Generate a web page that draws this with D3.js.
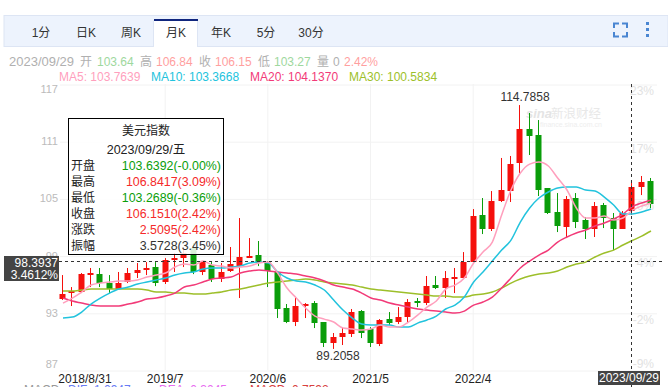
<!DOCTYPE html>
<html>
<head>
<meta charset="utf-8">
<script src="https://cdn.jsdelivr.net/npm/d3@7"></script>
<style>
  html, body { margin: 0; padding: 0; background: #fff; overflow: hidden; }
  text { font-family: "Liberation Sans", "Noto Sans CJK SC", sans-serif; }
</style>
</head>
<body>
<svg id="chart" width="668" height="387"></svg>
<script>
// -----------------------------------------------------------------------
// Data
// -----------------------------------------------------------------------

const tabs = ["1分", "日K", "周K", "月K", "年K", "5分", "30分"];
const activeTab = "月K";

const opens = [94.44,95.18,95.18,96.96,97.06,96.12,95.49,96.23,97.17,97.49,97.8,96.23,98.53,98.74,99.79,97.28,98.01,96.54,97.38,97.9,98.85,99.06,98.32,97.28,93.5,92.03,93.71,94.02,92.03,89.83,90.46,90.77,93.18,91.3,89.72,92.34,92.03,92.55,94.23,94.02,95.91,95.6,96.65,96.65,98.32,103.26,101.79,104.73,105.77,108.71,112.28,111.65,106.09,103.57,102,105.04,102.73,101.79,104.31,102.94,101.79,103.64,106.2,106.84];
const highs = [96.96,95.7,97.17,97.7,97.7,96.96,97.28,97.7,98.22,98.32,98.32,98.74,99.27,99.9,100.3,98.43,98.32,98.22,99.9,102.94,100.84,100.53,98.43,97.38,93.92,94.65,94.02,94.23,92.03,90.88,91.5,93.4,93.29,91.5,92.34,93.08,93.6,94.44,94.55,96.86,96.86,97.38,97.7,99.37,103.88,105.04,105.77,109.24,109.45,114.79,113.96,113.22,106.09,105.56,105.25,105.56,103.05,104.62,104.52,103.47,103.68,106.84,107.35,107.14];
const lows = [94.34,93.71,95.07,95.7,95.7,95.07,95.49,96.12,96.65,96.96,95.8,96.02,97.28,97.8,97.06,96.96,96.23,96.23,97.28,94.55,98.85,97.9,95.7,92.45,91.92,91.61,92.45,91.4,89.41,89.21,89.62,90.46,90.35,89.41,89.51,91.71,91.82,91.92,93.6,93.81,95.49,94.55,95.07,96.54,98.32,101.26,101.58,104.62,104.62,107.66,109.55,105.25,103.36,101.47,100.84,101.89,100.74,100.95,101.89,99.58,101.79,103.27,105.35,103.99];
const closes = [94.97,95.28,97.06,97.17,96.12,95.49,96.12,97.17,97.49,97.7,96.12,98.53,98.74,99.27,97.28,98.32,96.54,97.28,98.11,98.85,98.95,98.22,97.38,93.4,92.03,93.71,93.92,91.92,89.83,90.46,90.88,93.08,90.88,89.83,92.24,91.92,92.55,94.13,94.02,95.8,95.6,96.65,96.75,98.32,103.15,101.79,104.73,105.88,108.6,112.28,111.55,105.88,103.47,102.1,104.93,102.52,101.79,104.2,102.94,101.79,103.47,106.15,106.72,104.41];

const ma5 = [94.02,94.55,95.18,95.91,96.12,96.23,96.33,96.33,96.44,96.75,96.96,97.17,97.8,98.11,98.01,98.43,98.01,97.9,97.7,97.8,97.9,98.22,98.32,97.17,95.6,94.55,93.5,92.66,92.34,92.03,91.4,91.3,91.19,91.3,91.71,91.5,91.5,92.03,92.76,93.6,94.23,95.49,95.91,96.65,98.22,99.37,100.42,103.26,105.88,107.66,108.6,108.82,108.4,107.14,105.88,103.99,102.94,102.94,103.15,102.73,102.94,103.76,104.2,104.52];
const ma10 = [92.45,92.55,93.08,93.92,94.55,95.07,95.49,95.7,96.02,96.23,96.44,96.65,96.96,97.17,97.28,97.59,97.7,97.7,97.8,97.9,98.22,98.32,98.22,97.28,96.65,96.33,96.23,95.91,95.39,94.34,93.29,92.45,91.82,91.71,91.71,91.71,91.5,91.5,91.92,92.24,92.66,93.4,93.81,94.65,96.23,97.28,98.43,99.58,100.63,102.52,103.99,105.04,105.67,106.09,106.2,106.2,105.88,105.77,105.14,104.31,103.37,103.37,103.57,103.88];
const ma20 = [94.55,94.23,94.02,93.81,93.71,93.71,93.71,93.92,94.13,94.44,94.55,94.76,95.07,95.7,95.91,96.23,96.54,96.65,96.75,97.17,97.38,97.49,97.38,97.28,97.17,97.06,96.86,96.65,96.33,95.91,95.7,95.49,95.07,94.55,94.34,94.02,93.81,93.6,93.4,93.29,93.18,93.08,92.97,93.18,93.81,94.13,94.65,95.6,96.65,97.7,98.43,99.06,99.58,100.42,100.95,101.37,101.68,102.1,102.42,102.84,103.36,104.14,104.52,104.83];
const ma30 = [95.28,95.28,95.39,95.49,95.49,95.49,95.49,95.49,95.49,95.39,95.18,95.18,95.07,95.07,94.97,94.97,95.07,95.18,95.39,95.49,95.7,95.91,96.12,96.23,96.33,96.44,96.54,96.44,96.23,96.12,96.02,95.91,95.7,95.49,95.39,95.28,95.18,95.07,94.97,94.86,94.76,94.76,94.65,94.65,94.86,94.97,95.18,95.6,96.12,96.54,96.86,97.06,97.17,97.38,97.8,98.11,98.32,98.85,99.27,99.58,100.11,100.58,101.05,101.58];

const yTicks = [117, 111, 105, 99, 93, 87];
const pctLabels = ["23%", "17%", "10%", "4%", "-2%", "-9%"];
// candle index -> axis label
const xTickIndex = [11, 22, 33, 44];
const xTickLabels = ["2019/7", "2020/6", "2021/5", "2022/4"];

const infoTexts = ["2023/09/29", "开", "103.64", "高", "106.84", "收", "106.15", "低", "103.27", "量", "0", "2.42%"];
const infoColors = ["#b0b0b0", "#b0b0b0", "#9ed89e", "#b0b0b0", "#ff9f9f", "#b0b0b0", "#ff9f9f", "#b0b0b0", "#9ed89e", "#b0b0b0", "#b0b0b0", "#ff9f9f"];
const maLabels = ["MA5: 103.7639", "MA10: 103.3668", "MA20: 104.1370", "MA30: 100.5834"];
const maColors = ["#ff9fbd", "#22c3dd", "#f23a78", "#9dbf2a"];

const tipNames = ["开盘", "最高", "最低", "收盘", "涨跌", "振幅"];
const tipValues = ["103.6392(-0.00%)", "106.8417(3.09%)", "103.2689(-0.36%)", "106.1510(2.42%)", "2.5095(2.42%)", "3.5728(3.45%)"];
const tipColors = ["#0a9e0a", "#f52a2a", "#0a9e0a", "#f52a2a", "#f52a2a", "#333"];

const crossIndex = 61;
const crossValue = 98.3937;

const UP = "#f5100c";
const DOWN = "#0a9d0a";

// -----------------------------------------------------------------------
// Scales
// -----------------------------------------------------------------------

const svg = d3.select("#chart");
const x = d3.scaleLinear().domain([0, 63]).range([62, 650]);
const y = d3.scaleLinear().domain([87, 117]).range([370, 84]);
const px = i => Math.round(x(i)) + 0.5;

// -----------------------------------------------------------------------
// Toolbar
// -----------------------------------------------------------------------

svg.append("rect").attr("x", 4).attr("y", 15.5).attr("width", 664).attr("height", 31)
  .attr("fill", "#edf3fd").attr("stroke", "#dde5f4");

const tabX = d3.scalePoint().domain(tabs).range([41, 311]);
const activeX = tabX(activeTab);
svg.append("rect").attr("x", activeX - 22).attr("y", 20).attr("width", 44).attr("height", 27)
  .attr("fill", "#fff");
svg.append("path").attr("d", `M${activeX - 22.5},47V20.5M${activeX + 21.5},20.5V47`)
  .attr("stroke", "#dde5f4").attr("fill", "none");
svg.append("rect").attr("x", activeX - 22).attr("y", 19).attr("width", 44).attr("height", 2)
  .attr("fill", "#10267e");

svg.selectAll(".tab").data(tabs).join("text")
  .attr("class", "tab")
  .attr("x", d => tabX(d))
  .attr("y", 37)
  .attr("text-anchor", "middle")
  .attr("font-size", 12)
  .attr("fill", "#333")
  .text(d => d);

// fullscreen + menu icons
svg.append("path")
  .attr("d", "M614,28V23.5H619M622,23.5H627V28M627,32V36.5H622M619,36.5H614V32")
  .attr("fill", "none").attr("stroke", "#4a86d2").attr("stroke-width", 2);
svg.selectAll(".dot").data([22, 28, 34]).join("rect")
  .attr("class", "dot")
  .attr("x", 646).attr("y", d => d).attr("width", 3).attr("height", 3)
  .attr("fill", "#4a86d2");

// -----------------------------------------------------------------------
// Header lines
// -----------------------------------------------------------------------

const infoX = [9, 80, 97, 140, 156, 199, 215, 258, 274, 317, 333, 344];
svg.selectAll(".info").data(infoTexts).join("text")
  .attr("class", "info")
  .attr("x", (d, i) => infoX[i])
  .attr("y", 66)
  .attr("font-size", (d, i) => (i === 0 ? 13 : 12))
  .attr("fill", (d, i) => infoColors[i])
  .text(d => d);

svg.selectAll(".ma-label").data(maLabels).join("text")
  .attr("class", "ma-label")
  .attr("x", (d, i) => [59, 151, 250, 349][i])
  .attr("y", 81)
  .attr("font-size", 12)
  .attr("fill", (d, i) => maColors[i])
  .text(d => d);

// -----------------------------------------------------------------------
// Axes and grid
// -----------------------------------------------------------------------

const gridColor = "#f2f2f2";

const yAxis = svg.append("g")
  .attr("transform", "translate(60,0)")
  .call(d3.axisLeft(y).tickValues(yTicks).tickSize(-597).tickPadding(2));
yAxis.select(".domain").remove();
yAxis.selectAll("line").attr("stroke", gridColor).attr("transform", "translate(0,0.5)");
yAxis.selectAll("text")
  .attr("font-size", 11)
  .attr("font-family", "Liberation Sans")
  .attr("fill", "#bbb")
  .attr("dy", d => (d === 117 ? "0.8em" : d === 87 ? "-0.2em" : "0.32em"));

const pctScale = d3.scaleOrdinal().domain(yTicks).range(pctLabels);
const yRight = svg.append("g")
  .attr("transform", "translate(654,0)")
  .call(d3.axisLeft(y).tickValues(yTicks).tickSize(0).tickPadding(0).tickFormat(d => pctScale(d)));
yRight.select(".domain").remove();
yRight.selectAll("text")
  .attr("font-size", 12)
  .attr("font-family", "Liberation Sans")
  .attr("fill", "#e2e2e2")
  .attr("dy", d => (d === 87 ? "-0.2em" : "0.9em"));

const xAxis = svg.append("g")
  .attr("transform", "translate(0,370)")
  .call(d3.axisBottom(x).tickValues(xTickIndex).tickSize(-286).tickPadding(4)
    .tickFormat((d, i) => xTickLabels[i]));
xAxis.select(".domain").remove();
xAxis.selectAll("line").attr("stroke", gridColor);
xAxis.selectAll("text")
  .attr("font-size", 12)
  .attr("font-family", "Liberation Sans")
  .attr("fill", "#222");

svg.append("text").attr("x", 85).attr("y", 383)
  .attr("text-anchor", "middle").attr("font-size", 12).attr("fill", "#222")
  .text("2018/8/31");

// bottom row, cut off by the window
const macdRow = [["MACD", 24, "#999"], ["DIF: 1.0947", 68, "#6a7cf5"], ["DEA: 0.3045", 159, "#e86cf0"], ["MACD: 0.7592", 250, "#d8413f"]];
svg.selectAll(".macd").data(macdRow).join("text")
  .attr("class", "macd")
  .attr("x", d => d[1]).attr("y", 394)
  .attr("font-size", 12)
  .attr("fill", d => d[2])
  .text(d => d[0]);

// watermark
svg.append("text").attr("x", 526).attr("y", 118)
  .attr("font-size", 13).attr("font-weight", "bold").attr("font-style", "italic")
  .attr("fill", "#e4e4e4").text("sina");
svg.append("text").attr("x", 551).attr("y", 118)
  .attr("font-size", 12.5).attr("fill", "#e8e8e8").text("新浪财经");
svg.append("text").attr("x", 540).attr("y", 127)
  .attr("font-size", 7).attr("fill", "#eee").text("finance.sina.com.cn");

// -----------------------------------------------------------------------
// Candles
// -----------------------------------------------------------------------

const candles = svg.append("g");
const isUp = i => closes[i] >= opens[i];

candles.selectAll(".wick").data(d3.range(opens.length)).join("line")
  .attr("class", "wick")
  .attr("x1", px).attr("x2", px)
  .attr("y1", i => y(highs[i]))
  .attr("y2", i => y(lows[i]))
  .attr("stroke", i => (isUp(i) ? UP : DOWN));

candles.selectAll(".body").data(d3.range(opens.length)).join("rect")
  .attr("class", "body")
  .attr("x", i => px(i) - 3)
  .attr("width", 6)
  .attr("y", i => Math.round(y(Math.max(opens[i], closes[i]))))
  .attr("height", i => Math.max(2, Math.round(Math.abs(y(opens[i]) - y(closes[i])))))
  .attr("fill", i => (isUp(i) ? UP : DOWN));

// -----------------------------------------------------------------------
// Moving averages
// -----------------------------------------------------------------------

const line = d3.line().x((d, i) => x(i) + 1).y(d => y(d)).curve(d3.curveMonotoneX);
[ma30, ma20, ma10, ma5].forEach((series, k) => {
  svg.append("path")
    .attr("d", line(series))
    .attr("fill", "none")
    .attr("stroke", maColors[3 - k])
    .attr("stroke-width", 1.5);
});

// -----------------------------------------------------------------------
// High / low notes and crosshair
// -----------------------------------------------------------------------

svg.append("text").attr("x", 525).attr("y", 101)
  .attr("text-anchor", "middle").attr("font-size", 12).attr("fill", "#333").text("114.7858");
svg.append("text").attr("x", 338).attr("y", 360)
  .attr("text-anchor", "middle").attr("font-size", 12).attr("fill", "#333").text("89.2058");

const crossY = Math.round(y(crossValue)) + 0.5;
svg.append("line").attr("x1", 59).attr("x2", 664).attr("y1", crossY).attr("y2", crossY)
  .attr("stroke", "#333").attr("stroke-dasharray", "3,3");
svg.append("line").attr("x1", px(crossIndex)).attr("x2", px(crossIndex)).attr("y1", 84).attr("y2", 387)
  .attr("stroke", "#333").attr("stroke-dasharray", "3,3");

svg.append("rect").attr("x", 4).attr("y", 256).attr("width", 55).attr("height", 25).attr("fill", "#444");
svg.selectAll(".cross-label").data(["98.3937", "3.4612%"]).join("text")
  .attr("class", "cross-label")
  .attr("x", 58)
  .attr("y", (d, i) => 267 + i * 12)
  .attr("text-anchor", "end")
  .attr("font-size", 12)
  .attr("fill", "#fff")
  .text(d => d);

svg.append("rect").attr("x", 598).attr("y", 371).attr("width", 62).attr("height", 14).attr("fill", "#444");
svg.append("text").attr("x", 629).attr("y", 382)
  .attr("text-anchor", "middle").attr("font-size", 12).attr("fill", "#fff").text("2023/09/29");

// -----------------------------------------------------------------------
// Tooltip panel
// -----------------------------------------------------------------------

const tip = svg.append("g");
tip.append("rect").attr("x", 68.5).attr("y", 118.5).attr("width", 155).attr("height", 136)
  .attr("fill", "#fff").attr("fill-opacity", 0.85).attr("stroke", "#000");
tip.append("text").attr("x", 146).attr("y", 135)
  .attr("text-anchor", "middle").attr("font-size", 12).attr("fill", "#222").text("美元指数");
tip.append("text").attr("x", 146).attr("y", 154)
  .attr("text-anchor", "middle").attr("font-size", 12.5).attr("fill", "#222").text("2023/09/29/五");

tipNames.forEach((name, i) => {
  const rowY = 170 + i * 16;
  tip.append("text").attr("x", 71).attr("y", rowY)
    .attr("font-size", 12).attr("fill", "#222").text(name);
  tip.append("text").attr("x", 221).attr("y", rowY)
    .attr("text-anchor", "end").attr("font-size", 12.4).attr("fill", tipColors[i]).text(tipValues[i]);
});
</script>
</body>
</html>
